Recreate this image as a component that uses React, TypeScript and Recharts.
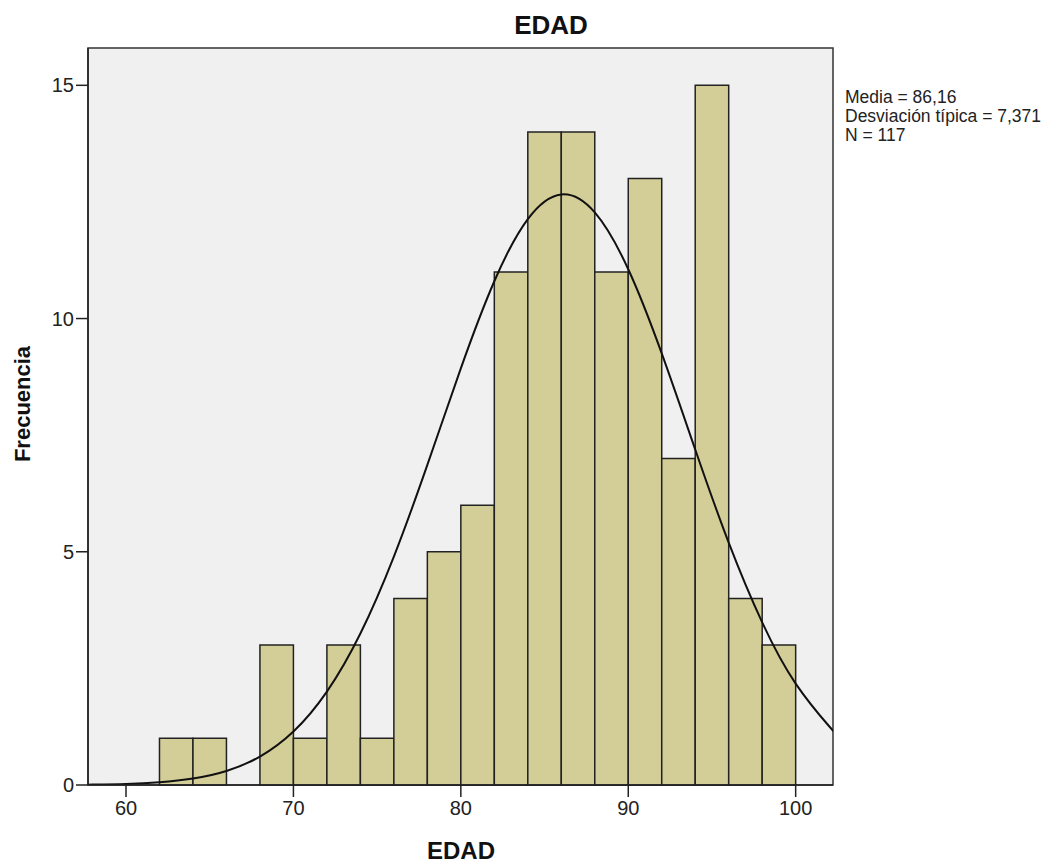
import { ComposedChart, XAxis, YAxis, Line, ReferenceArea } from 'recharts'

// histogram bins (left edge) and frequencies, bin width 2
const binStarts = [62, 64, 66, 68, 70, 72, 74, 76, 78, 80, 82, 84, 86, 88, 90, 92, 94, 96, 98]
const binCounts = [1, 1, 0, 3, 1, 3, 1, 4, 5, 6, 11, 14, 14, 11, 13, 7, 15, 4, 3]
const binWidth = 2

// fitted normal curve
const curveX = [57.73, 58, 60, 62, 64, 66, 68, 70, 72, 74, 76, 78, 80, 82, 84, 86, 88, 90, 92, 94, 96, 98, 100, 102, 102.23]
const curveY = [0.007, 0.009, 0.023, 0.059, 0.138, 0.301, 0.609, 1.145, 2.001, 3.247, 4.897, 6.862, 8.932, 10.8, 12.132, 12.661, 12.275, 11.057, 9.252, 7.193, 5.195, 3.486, 2.173, 1.259, 1.176]

const xTicks = [60, 70, 80, 90, 100]
const yTicks = [0, 5, 10, 15]
const xDomain = [57.73, 102.23]
const yDomain = [0, 15.8]

const stats = ['Media = 86,16', 'Desviación típica = 7,371', 'N = 117']

const curve = curveX.map((x, i) => ({ x, y: curveY[i] }))

const font = '"Liberation Sans", Arial, sans-serif'
const ink = '#222'

export default function App() {
  return (
    <div style={{ position: 'absolute', left: 0, top: 0, width: 1064, height: 863, background: '#fff' }}>
      <ComposedChart width={1064} height={863} margin={{ top: 48, right: 231, bottom: 0, left: 0 }}>
        <XAxis
          type='number'
          dataKey='x'
          domain={xDomain}
          ticks={xTicks}
          allowDataOverflow
          height={78}
          tickSize={12}
          tickMargin={4}
          axisLine={{ stroke: ink, strokeWidth: 1.5 }}
          tickLine={{ stroke: ink, strokeWidth: 1.5 }}
          tick={{ fill: ink, fontSize: 20, fontFamily: font }}
        />
        <YAxis
          type='number'
          domain={yDomain}
          ticks={yTicks}
          allowDataOverflow
          width={88}
          tickSize={12}
          tickMargin={2}
          axisLine={{ stroke: ink, strokeWidth: 1.5 }}
          tickLine={{ stroke: ink, strokeWidth: 1.5 }}
          tick={{ fill: ink, fontSize: 20, fontFamily: font }}
        />
        <ReferenceArea
          x1={xDomain[0]}
          x2={xDomain[1]}
          y1={yDomain[0]}
          y2={yDomain[1]}
          fill='#f0f0f0'
          fillOpacity={1}
          stroke='#333'
          strokeWidth={1.5}
        />
        {binStarts.map((start, i) =>
          binCounts[i] > 0 ? (
            <ReferenceArea
              key={start}
              x1={start}
              x2={start + binWidth}
              y1={0}
              y2={binCounts[i]}
              fill='#d3ce98'
              fillOpacity={1}
              stroke={ink}
              strokeWidth={1.5}
            />
          ) : null
        )}
        <Line
          data={curve}
          dataKey='y'
          type='natural'
          stroke='#111'
          strokeWidth={2}
          dot={false}
          activeDot={false}
          isAnimationActive={false}
        />
        <text x={551} y={34} textAnchor='middle' fontFamily={font} fontWeight='bold' fontSize={26} fill='#111'>
          EDAD
        </text>
        <text x={461} y={859} textAnchor='middle' fontFamily={font} fontWeight='bold' fontSize={24} fill='#111'>
          EDAD
        </text>
        <text
          x={30}
          y={404}
          transform='rotate(-90 30 404)'
          textAnchor='middle'
          fontFamily={font}
          fontWeight='bold'
          fontSize={22}
          fill='#111'
        >
          Frecuencia
        </text>
        {stats.map((s, i) => (
          <text key={s} x={845} y={103 + i * 19} fontFamily={font} fontSize={17.5} fill={ink}>
            {s}
          </text>
        ))}
      </ComposedChart>
    </div>
  )
}
